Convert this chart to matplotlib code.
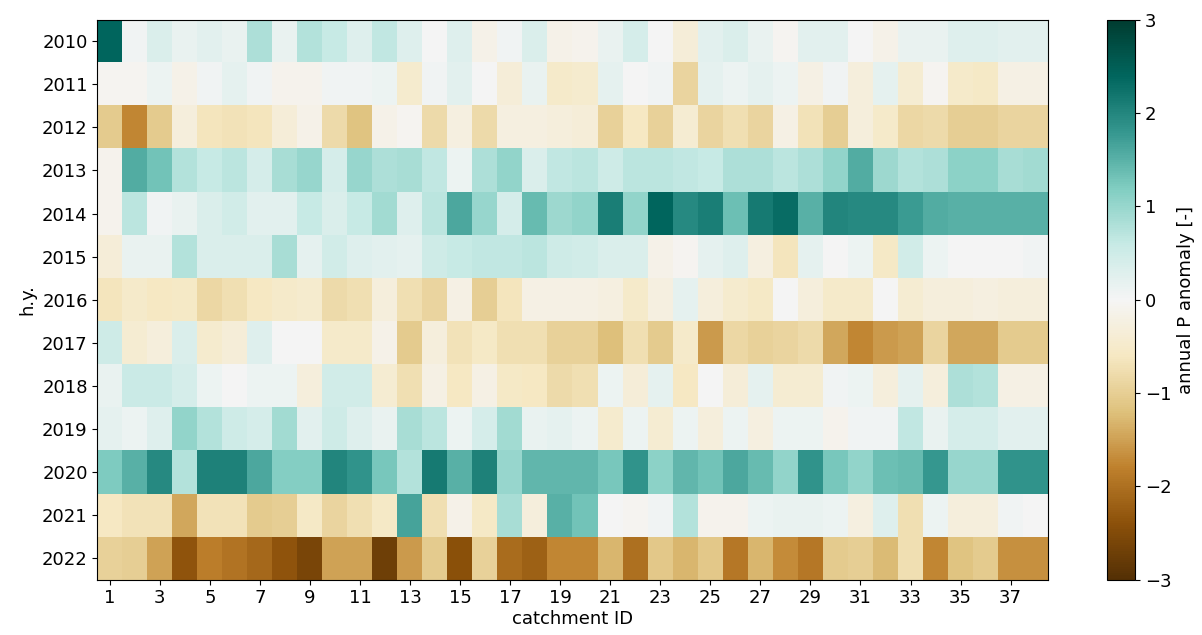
import numpy as np
import matplotlib
matplotlib.use("Agg")
from matplotlib import pyplot as plt

# hydrological years (rows) and catchment IDs (columns)
years = list(range(2010, 2023))
catchments = list(range(1, 39))

# annual P anomaly per year, one list per hydrological year (catchments 1..38)
a2010 = [2.4, 0.05, 0.35, 0.15, 0.25, 0.15, 0.8, 0.15, 0.75, 0.6, 0.3, 0.65, 0.3, 0.0, 0.3, -0.15, 0.05, 0.35, -0.15,
         -0.1, 0.15, 0.4, 0.0, -0.35, 0.25, 0.35, 0.15, -0.05, 0.25, 0.25, 0.0, -0.15, 0.15, 0.15, 0.3, 0.3, 0.25, 0.25]
a2011 = [-0.05, -0.05, 0.1, -0.15, 0.05, 0.2, 0.05, -0.1, -0.1, 0.05, 0.05, 0.1, -0.45, 0.05, 0.25, 0.0, -0.35, 0.15, -0.5,
         -0.45, 0.2, 0.02, 0.05, -0.9, 0.2, 0.1, 0.2, 0.1, -0.2, 0.05, -0.3, 0.2, -0.4, -0.05, -0.5, -0.55, -0.2, -0.2]
a2012 = [-1.05, -1.75, -1.05, -0.3, -0.65, -0.7, -0.65, -0.35, -0.15, -0.8, -1.15, -0.15, -0.05, -0.8, -0.25, -0.8, -0.25, -0.25, -0.3,
         -0.35, -0.95, -0.6, -0.95, -0.4, -0.9, -0.75, -0.9, -0.2, -0.7, -1.0, -0.3, -0.5, -0.85, -0.8, -1.0, -1.0, -0.9, -0.9]
a2013 = [-0.1, 1.55, 1.3, 0.75, 0.6, 0.7, 0.4, 0.85, 1.0, 0.4, 1.0, 0.8, 0.85, 0.65, 0.1, 0.8, 1.05, 0.35, 0.65,
         0.7, 0.5, 0.7, 0.7, 0.65, 0.6, 0.8, 0.8, 0.7, 0.8, 1.05, 1.55, 0.95, 0.75, 0.8, 1.1, 1.1, 0.85, 0.9]
a2014 = [-0.1, 0.7, 0.05, 0.15, 0.35, 0.45, 0.25, 0.25, 0.6, 0.35, 0.6, 0.9, 0.3, 0.7, 1.6, 1.0, 0.4, 1.4, 0.95,
         1.05, 2.1, 1.05, 2.4, 1.95, 2.1, 1.35, 2.15, 2.3, 1.5, 2.0, 1.95, 1.95, 1.75, 1.55, 1.5, 1.5, 1.5, 1.5]
a2015 = [-0.35, 0.15, 0.15, 0.75, 0.35, 0.35, 0.35, 0.85, 0.2, 0.45, 0.3, 0.25, 0.2, 0.5, 0.6, 0.65, 0.65, 0.7, 0.5,
         0.45, 0.35, 0.35, -0.15, -0.05, 0.2, 0.3, -0.25, -0.65, 0.2, 0.0, 0.1, -0.55, 0.45, 0.1, 0.0, 0.0, 0.0, 0.05]
a2016 = [-0.65, -0.5, -0.6, -0.55, -0.85, -0.75, -0.6, -0.5, -0.45, -0.8, -0.75, -0.3, -0.75, -0.9, -0.2, -1.0, -0.65, -0.2, -0.2,
         -0.2, -0.25, -0.5, -0.25, 0.2, -0.3, -0.45, -0.55, 0.0, -0.3, -0.5, -0.5, 0.0, -0.4, -0.3, -0.3, -0.25, -0.3, -0.3]
a2017 = [0.5, -0.4, -0.3, 0.35, -0.45, -0.35, 0.3, 0.0, 0.0, -0.5, -0.5, -0.15, -1.05, -0.3, -0.7, -0.55, -0.75, -0.75, -0.95,
         -0.95, -1.2, -0.75, -1.05, -0.5, -1.55, -0.85, -0.95, -0.9, -0.8, -1.45, -1.75, -1.55, -1.5, -0.9, -1.45, -1.45, -1.05, -1.05]
a2018 = [0.15, 0.55, 0.55, 0.4, 0.1, 0.0, 0.1, 0.1, -0.3, 0.45, 0.45, -0.4, -0.75, -0.2, -0.6, -0.2, -0.55, -0.6, -0.8,
         -0.75, 0.1, -0.35, 0.2, -0.6, 0.0, -0.35, 0.2, -0.4, -0.4, 0.05, 0.1, -0.3, 0.2, -0.3, 0.8, 0.75, -0.2, -0.2]
a2019 = [0.2, 0.1, 0.3, 1.05, 0.75, 0.5, 0.4, 0.9, 0.25, 0.5, 0.3, 0.15, 0.85, 0.7, 0.1, 0.4, 0.9, 0.15, 0.2,
         0.1, -0.45, 0.1, -0.4, 0.1, -0.3, 0.1, -0.25, 0.1, 0.1, -0.1, 0.05, 0.05, 0.65, 0.15, 0.4, 0.4, 0.25, 0.25]
a2020 = [1.2, 1.5, 1.95, 0.75, 2.05, 2.05, 1.6, 1.15, 1.15, 2.0, 1.85, 1.25, 0.75, 2.15, 1.5, 2.05, 1.0, 1.45, 1.45,
         1.45, 1.25, 1.85, 1.1, 1.45, 1.3, 1.6, 1.4, 1.05, 1.85, 1.25, 1.05, 1.35, 1.4, 1.8, 1.0, 1.0, 1.85, 1.85]
a2021 = [-0.6, -0.7, -0.7, -1.45, -0.7, -0.7, -1.05, -1.0, -0.55, -0.9, -0.75, -0.55, 1.65, -0.75, -0.15, -0.55, 0.85, -0.3, 1.5,
         1.3, 0.02, -0.05, 0.05, 0.75, -0.1, -0.1, 0.1, 0.15, 0.15, 0.1, -0.25, 0.3, -0.75, 0.1, -0.3, -0.3, 0.05, 0.02]
a2022 = [-0.95, -1.0, -1.5, -2.35, -1.85, -1.95, -2.1, -2.35, -2.6, -1.5, -1.5, -2.7, -1.55, -1.05, -2.4, -0.95, -2.05, -2.2, -1.75,
         -1.75, -1.3, -2.0, -1.1, -1.3, -1.1, -1.9, -1.3, -1.7, -1.9, -1.05, -1.0, -1.25, -0.75, -1.75, -1.15, -1.05, -1.65, -1.65]

anom = np.array([a2010, a2011, a2012, a2013, a2014, a2015, a2016,
                 a2017, a2018, a2019, a2020, a2021, a2022])

fig = plt.figure(figsize=(12.02, 6.35), dpi=100)
ax = fig.add_axes([0.081, 0.087, 0.791, 0.882])
cax = fig.add_axes([0.921, 0.087, 0.0233, 0.882])

im = ax.imshow(anom, cmap="BrBG", vmin=-3, vmax=3, aspect="auto",
               extent=(catchments[0] - 0.5, catchments[-1] + 0.5, years[-1] + 0.5, years[0] - 0.5),
               interpolation="nearest")

ax.set_xticks(catchments[::2])
ax.set_yticks(years)
ax.tick_params(labelsize=13)
ax.set_xlabel("catchment ID", fontsize=13, labelpad=2)
ax.set_ylabel("h.y.", fontsize=13)

cb = fig.colorbar(im, cax=cax)
cb.set_ticks([-3, -2, -1, 0, 1, 2, 3])
cb.ax.tick_params(labelsize=13)
cb.set_label("annual P anomaly [-]", fontsize=13)

fig.savefig("out.png", dpi=100)
